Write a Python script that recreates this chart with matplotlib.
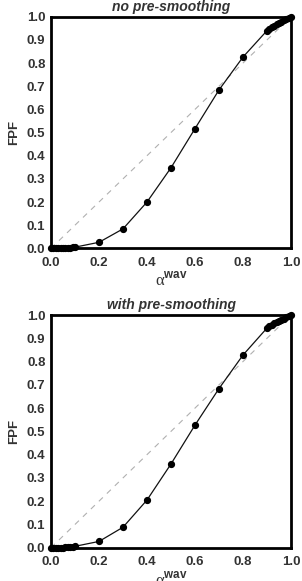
import matplotlib
matplotlib.use('Agg')
import matplotlib.pyplot as plt
import numpy as np

plt.rcParams['font.family'] = ['Liberation Sans', 'DejaVu Sans']
plt.rcParams['mathtext.fontset'] = 'custom'
plt.rcParams['mathtext.rm'] = 'Liberation Serif'
plt.rcParams['mathtext.sf'] = 'Liberation Sans:bold'

# alpha^wav values (same for both panels)
alpha = [0.0, 0.01, 0.02, 0.03, 0.04, 0.05, 0.06, 0.07, 0.08, 0.09, 0.1,
         0.2, 0.3, 0.4, 0.5, 0.6, 0.7, 0.8, 0.9,
         0.91, 0.92, 0.93, 0.94, 0.95, 0.96, 0.97, 0.98, 0.99, 1.0]

# FPF without pre-smoothing
fpf_raw = [0.0, 0.0, 0.0, 0.0, 0.0, 0.001, 0.001, 0.002, 0.003, 0.004, 0.005,
           0.026, 0.084, 0.2, 0.348, 0.517, 0.684, 0.826, 0.94,
           0.948, 0.956, 0.962, 0.968, 0.973, 0.979, 0.984, 0.99, 0.995, 1.0]

# FPF with pre-smoothing
fpf_smooth = [0.0, 0.0, 0.0, 0.0, 0.0, 0.0, 0.001, 0.001, 0.002, 0.003, 0.006,
              0.027, 0.088, 0.205, 0.36, 0.527, 0.684, 0.828, 0.944,
              0.951, 0.958, 0.964, 0.969, 0.974, 0.979, 0.984, 0.99, 0.995, 1.0]

titles = ['no pre-smoothing', 'with pre-smoothing']
ticks = [0.0, 0.1, 0.2, 0.3, 0.4, 0.5, 0.6, 0.7, 0.8, 0.9, 1.0]
xticks = [0.0, 0.2, 0.4, 0.6, 0.8, 1.0]

fig = plt.figure(figsize=(3.02, 5.81), dpi=100)
ax1 = fig.add_axes([0.1689, 0.5726, 0.7947, 0.3986])
ax2 = fig.add_axes([0.1689, 0.0573, 0.7947, 0.4005])

for ax, fpf, title in zip([ax1, ax2], [fpf_raw, fpf_smooth], titles):
    ax.plot([0, 1], [0, 1], ls=(0, (5, 5)), color='#b0b0b0', lw=0.8)
    ax.plot(alpha, fpf, color='#111111', lw=0.9, marker='o', ms=4.2,
            mfc='black', mec='black', clip_on=False, zorder=3)
    ax.set_xlim(0, 1)
    ax.set_ylim(0, 1)
    ax.set_xticks(xticks)
    ax.set_yticks(ticks)
    ax.set_xticklabels(['%.1f' % t for t in xticks])
    ax.set_yticklabels(['%.1f' % t for t in ticks])
    for sp in ax.spines.values():
        sp.set_linewidth(2.0)
    ax.tick_params(direction='out', length=0, labelsize=9.5,
                   labelcolor='#333333', pad=4)
    ax.tick_params(axis='x', pad=6)
    for lab in ax.get_xticklabels() + ax.get_yticklabels():
        lab.set_fontweight('bold')
    ax.set_title(title, fontsize=10, fontweight='bold', style='italic',
                 color='#333333', pad=4)
    ax.set_ylabel('FPF', fontsize=9.5, fontweight='bold', color='#333333',
                  labelpad=5)
    ax.set_xlabel(r'$\mathrm{\alpha}^{\mathsf{wav}}$', fontsize=12,
                  color='#333333', labelpad=1)

fig.savefig('out.png', dpi=100)
